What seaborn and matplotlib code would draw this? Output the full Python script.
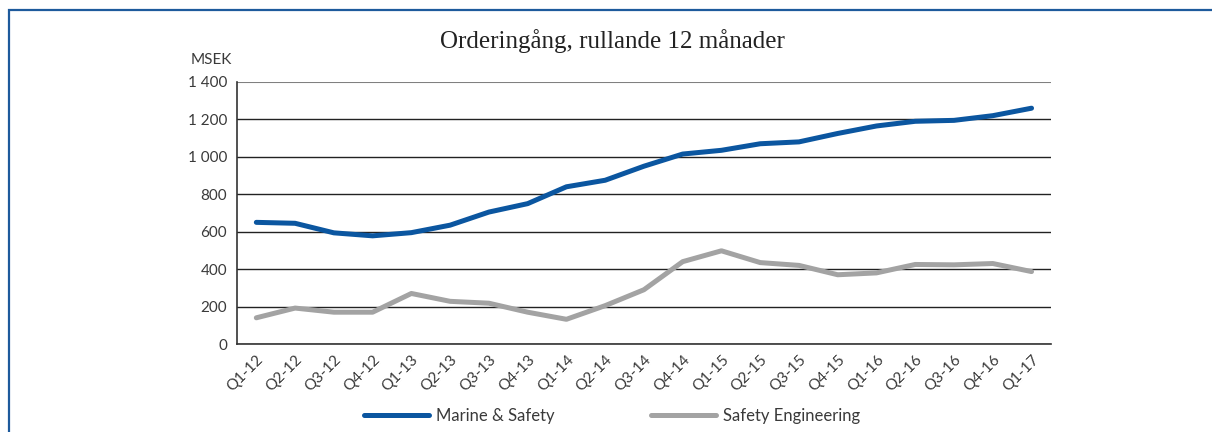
import pandas as pd
import seaborn as sns
import matplotlib.pyplot as plt
from matplotlib.patches import Rectangle
from matplotlib.ticker import FuncFormatter

# --- data (MSEK, rolling 12 months) ---
quarters = ["Q1-12", "Q2-12", "Q3-12", "Q4-12",
            "Q1-13", "Q2-13", "Q3-13", "Q4-13",
            "Q1-14", "Q2-14", "Q3-14", "Q4-14",
            "Q1-15", "Q2-15", "Q3-15", "Q4-15",
            "Q1-16", "Q2-16", "Q3-16", "Q4-16",
            "Q1-17"]
marine_safety = [650, 645, 594, 578, 595, 635, 705, 750, 840, 875, 950,
                 1015, 1035, 1070, 1080, 1125, 1165, 1190, 1195, 1220, 1260]
safety_engineering = [140, 192, 170, 170, 270, 228, 218, 170, 132, 205, 290,
                      440, 498, 435, 420, 370, 380, 425, 423, 430, 387]
series_names = ["Marine & Safety", "Safety Engineering"]
series_colors = ["#0b56a0", "#a3a3a3"]
y_ticks = [0, 200, 400, 600, 800, 1000, 1200, 1400]

df = pd.concat([
    pd.DataFrame({"kvartal": quarters, "MSEK": marine_safety, "serie": series_names[0]}),
    pd.DataFrame({"kvartal": quarters, "MSEK": safety_engineering, "serie": series_names[1]}),
])

sns.set_style("white")
plt.rcParams["font.family"] = ["Lato", "DejaVu Sans"]

fig = plt.figure(figsize=(12.12, 4.32), dpi=100)
ax = fig.add_axes([0.1955, 0.2037, 0.6716, 0.6065])

sns.lineplot(data=df, x="kvartal", y="MSEK", hue="serie",
             palette=dict(zip(series_names, series_colors)),
             linewidth=3.6, sort=False, ax=ax, legend=False)
for line in ax.lines:
    line.set_solid_capstyle("round")
    line.set_solid_joinstyle("round")

ax.set_xlim(-0.5, len(quarters) - 0.5)
ax.set_ylim(0, 1400)
ax.set_yticks(y_ticks)
ax.yaxis.set_major_formatter(FuncFormatter(lambda v, p: f"{int(v):,}".replace(",", " ")))
ax.set_xlabel("")
ax.set_ylabel("")
ax.set_xticks(range(len(quarters)))
ax.set_xticklabels(quarters, rotation=45, ha="right", rotation_mode="anchor")
ax.tick_params(axis="both", length=0, labelsize=11, colors="#3a3a3a")
ax.tick_params(axis="y", pad=7)
ax.tick_params(axis="x", pad=6)

ax.yaxis.grid(True, color="#222222", linewidth=1)
ax.set_axisbelow(True)
ax.get_ygridlines()[-1].set_color("#808080")
ax.get_ygridlines()[-1].set_linewidth(1.5)

for side in ["top", "right"]:
    ax.spines[side].set_visible(False)
for side in ["left", "bottom"]:
    ax.spines[side].set_color("#333333")
    ax.spines[side].set_linewidth(1.2)

fig.text(0.157, 0.862, "MSEK", fontsize=11, color="#3a3a3a", ha="left", va="center")
fig.text(0.505, 0.905, "Orderingång, rullande 12 månader",
         fontsize=18, family=["Liberation Serif", "DejaVu Serif"],
         color="#222222", ha="center", va="center")

# legend built from the plotted lines
fig.legend(ax.lines[:2], series_names, loc="center", bbox_to_anchor=(0.505, 0.037),
           ncol=2, frameon=False, fontsize=12, handlelength=3.9,
           handletextpad=0.4, columnspacing=5.8, labelcolor="#3a3a3a")

# blue frame around the chart panel
fig.patches.append(Rectangle((0.0072, -0.1), 1.2, 1.0780, transform=fig.transFigure,
                             fill=False, edgecolor="#1d5a9c", linewidth=1.6))

fig.savefig("out.png", dpi=100)
